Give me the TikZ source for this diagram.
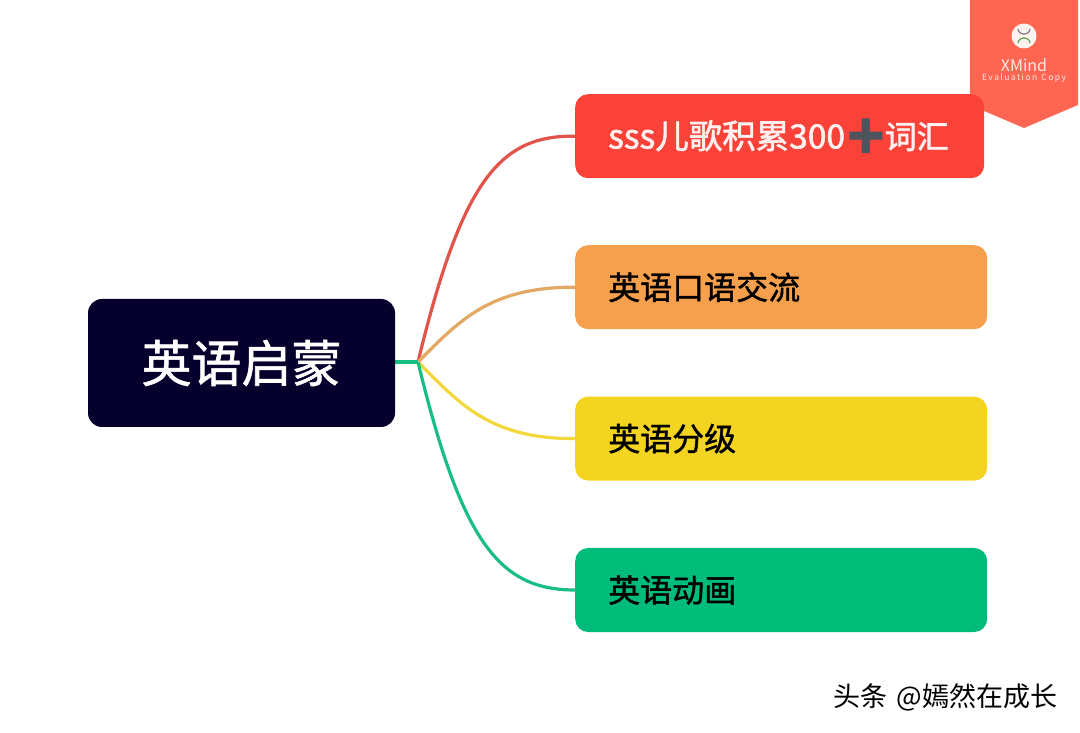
\documentclass[tikz,border=0pt]{standalone}
\usepackage{fontspec}
\setmainfont[FakeBold=1.2]{Noto Sans CJK SC}
\newfontfamily\plainfont{Noto Sans CJK SC}
\newfontfamily\heavyfont[FakeBold=1.8]{Noto Sans CJK SC}
\newfontfamily\emojifont{Noto Emoji}
\usetikzlibrary{positioning,calc,backgrounds}
\definecolor{rootblue}{RGB}{6, 0, 44}
\definecolor{boxred}{RGB}{250, 66, 56}
\definecolor{boxorange}{RGB}{246, 160, 78}
\definecolor{boxyellow}{RGB}{243, 212, 33}
\definecolor{boxgreen}{RGB}{0, 188, 122}
\definecolor{linered}{RGB}{226, 84, 74}
\definecolor{lineorange}{RGB}{226, 168, 100}
\definecolor{lineyellow}{RGB}{242, 216, 60}
\definecolor{linegreen}{RGB}{24, 190, 130}
\definecolor{bannerred}{RGB}{255, 102, 82}
\definecolor{plusgray}{RGB}{78, 84, 94}
\begin{document}
\begin{tikzpicture}[x=1pt, y=1pt, node distance=67pt and 180pt,
	rootbox/.style={draw=none, rectangle, rounded corners=14pt, fill=rootblue, text=white, minimum width=307pt, minimum height=128pt, inner sep=0pt, font=\fontsize{50}{56}\selectfont},
	topicbox/.style={draw=none, rectangle, rounded corners=13pt, minimum height=84pt, inner xsep=33pt, inner ysep=0pt, text width=346pt, align=left, font=\fontsize{32}{38}\selectfont},
	branchLine/.style={line width=3.2pt, -},
	markText/.style={draw=none, inner sep=0pt, text=white!85!bannerred}
	]
	\useasboundingbox (0,0) rectangle (1080,732);
	\node[rootbox](root) at (241.5,369) {\raisebox{2pt}{英语启蒙}};
	\node[topicbox, fill=boxred, text=white!92!boxred, text width=343pt, anchor=north west, font=\heavyfont\fontsize{33.5}{38}\selectfont](t0) at (575,638) {\mbox{sss儿歌积累300\hspace{-2pt}{\emojifont\textcolor{plusgray}{\fontsize{36}{38}\selectfont\char"2795}}\hspace{-4pt}{\fontsize{32}{38}\selectfont 词汇}}};
	\node[topicbox, fill=boxorange, text=black, anchor=north west](t1) at (575,487) {英语口语交流};
	\node[topicbox, fill=boxyellow, text=black](t2) [below = of t1] {英语分级};
	\node[topicbox, fill=boxgreen, text=black](t3) [below = of t2] {英语动画};
	\coordinate (join) at (418,370);
	
	\begin{pgfonlayer}{background}
	\fill[white] (0,0) rectangle (1080,732);
	\draw [branchLine, linered] (join) .. controls (462,552) and (500,597) .. (t0.west);
	\draw [branchLine, lineorange] (join) .. controls (460,412) and (490,445) .. (t1.west);
	\draw [branchLine, lineyellow] (join) .. controls (460,328) and (490,293) .. (t2.west);
	\draw [branchLine, linegreen] (join) .. controls (462,188) and (500,142) .. (t3.west);
	\draw [branchLine, linegreen] (root.east |- join) -- (join);
	\fill[bannerred] (970,732) -- (1078,732) -- (1078,627) -- (1024,604) -- (970,627) -- cycle;
	\end{pgfonlayer}
	\node[circle, fill=white!92!bannerred, minimum size=25pt, inner sep=0pt](logo) at (1024,696) {};
	\draw[line width=1.2pt, gray] (1018,703) .. controls (1019,696) and (1029,696) .. (1030,703);
	\draw[line width=1.2pt, gray!70!green] (1018,689) .. controls (1019,696) and (1029,696) .. (1030,689);
	\node[markText, font=\plainfont\fontsize{16}{18}\selectfont](brand) [below = 10pt of logo] {XMind};
	\node[markText, font=\plainfont\fontsize{8.5}{9}\selectfont](copy) [below = 1pt of brand] {E\,v\,a\,l\,u\,a\,t\,i\,o\,n\; C\,o\,p\,y};
	\node[draw=none, inner sep=0pt, text=black, font=\plainfont\fontsize{27}{30}\selectfont](credit) at (945.5,35) {头条\hspace{9pt}@嫣然在成长};
\end{tikzpicture}
\end{document}
